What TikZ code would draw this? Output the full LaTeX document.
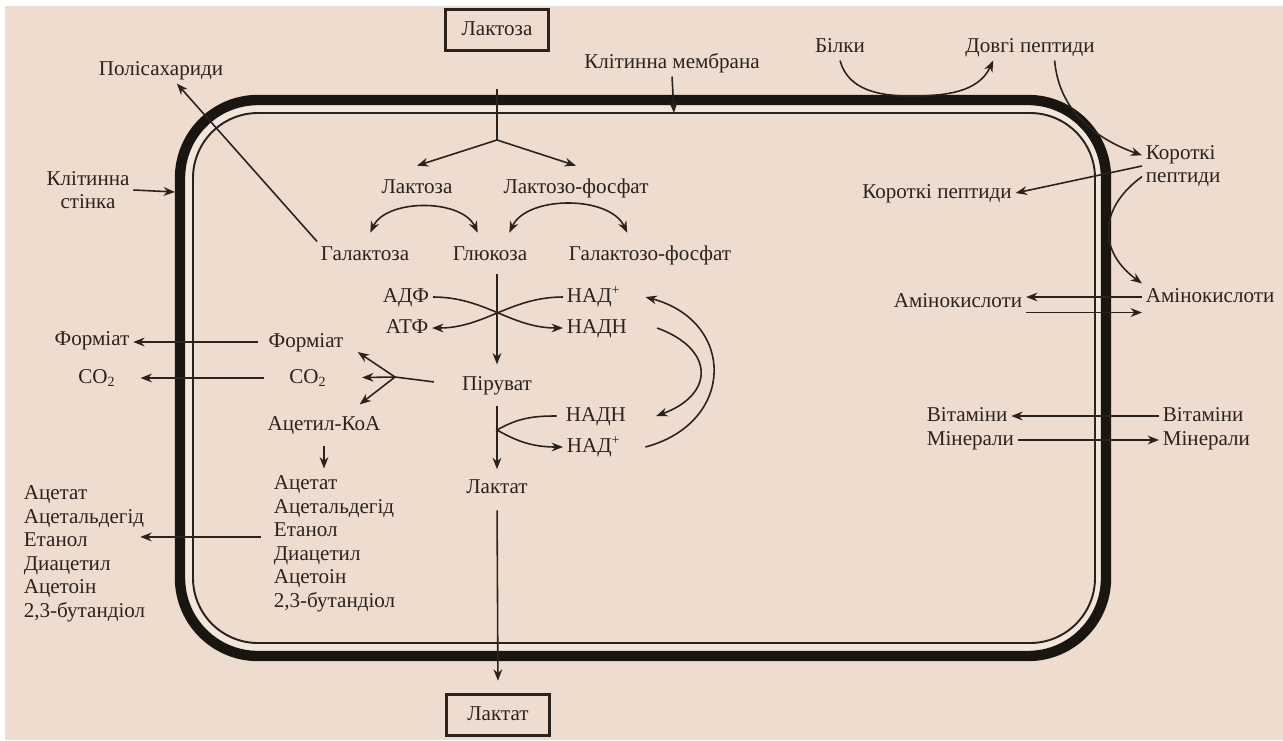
\documentclass[tikz,border=0pt]{standalone}
\usepackage{fontspec}
\setmainfont{Liberation Serif}
\usetikzlibrary{arrows.meta}
\definecolor{paper}{RGB}{238,221,207}
\definecolor{band}{RGB}{243,231,219}
\definecolor{ink}{RGB}{40,35,30}
\definecolor{wallc}{RGB}{25,22,18}

\begin{document}
\begin{tikzpicture}[x=0.02cm,y=-0.02cm,>={Stealth[length=6.5pt,width=5pt]},
    lbl/.style = {text=ink,font=\fontsize{12}{13.4}\selectfont,inner sep=2pt,text height=8.5pt,text depth=2.5pt},
    multi/.style = {text=ink,font=\fontsize{12}{13.4}\selectfont,inner sep=2pt,align=left},
    endbox/.style = {lbl,draw=ink,line width=1.7pt,minimum width=2.06cm,minimum height=0.82cm},
    arr/.style = {->,draw=ink,line width=0.9pt},
    dbl/.style = {<->,draw=ink,line width=0.9pt},
    link/.style = {draw=ink,line width=0.9pt}]

        % Background
        \useasboundingbox (0,0) rectangle (1283,740);
        \fill[white] (0,0) rectangle (1283,740);
        \fill[paper] (5,6) rectangle (1283,740);

        % Cell wall and membrane
        \filldraw[draw=wallc,fill=band,line width=5.9pt,rounded corners=1.56cm] (180,100) rectangle (1106,656);
        \filldraw[draw=ink,fill=paper,line width=1.1pt,rounded corners=1.3cm] (193,113) rectangle (1095,643);

        % Outside labels
        \node[endbox] (lacOut) at (497,30) {Лактоза};
        \node[lbl] (membr) at (672,63) {Клітинна мембрана};
        \node[lbl] (polys) at (161,70) {Полісахариди};
        \node[multi,align=center] (wall) at (88,190) {Клітинна\\стінка};
        \node[lbl] (prot) at (840,47) {Білки};
        \node[lbl] (longpep) at (1030,47) {Довгі пептиди};
        \node[multi,anchor=west] (shortOut) at (1142,166) {Короткі\\пептиди};
        \node[lbl,anchor=west] (aminoOut) at (1142,297) {Амінокислоти};
        \node[lbl,anchor=west] (vitOut) at (1159,416) {Вітаміни};
        \node[lbl,anchor=west] (minOut) at (1159,440) {Мінерали};
        \node[lbl] (formOut) at (92,340) {Форміат};
        \node[lbl] (co2Out) at (97,378) {CO\textsubscript{2}};
        \node[multi,anchor=north west] (prodOut) at (20,482) {Ацетат\\Ацетальдегід\\Етанол\\Диацетил\\Ацетоін\\2,3-бутандіол};
        \node[endbox] (lactOut) at (498,715) {Лактат};

        % Inside, right
        \node[lbl] (shortIn) at (937,193) {Короткі пептиди};
        \node[lbl] (aminoIn) at (958,302) {Амінокислоти};
        \node[lbl,anchor=west] (vitIn) at (923,416) {Вітаміни};
        \node[lbl,anchor=west] (minIn) at (923,440) {Мінерали};

        % Sugars
        \node[lbl] (lacIn) at (417,188) {Лактоза};
        \node[lbl] (lacP) at (576,188) {Лактозо-фосфат};
        \node[lbl] (gal) at (365,255) {Галактоза};
        \node[lbl] (glc) at (490,255) {Глюкоза};
        \node[lbl] (galP) at (650,255) {Галактозо-фосфат};

        % Glycolysis
        \node[lbl] (adp) at (406,297) {АДФ};
        \node[lbl] (atp) at (407,328) {АТФ};
        \node[lbl,anchor=west] (nadA) at (563,297) {НАД\textsuperscript{+}};
        \node[lbl,anchor=west] (nadhA) at (563,328) {НАДН};
        \node[lbl] (pyr) at (497,385) {Піруват};
        \node[lbl,anchor=west] (nadhB) at (562,416) {НАДН};
        \node[lbl,anchor=west] (nadB) at (563,447) {НАД\textsuperscript{+}};
        \node[lbl] (lact) at (497,488) {Лактат};

        % Mixed acids
        \node[lbl] (form) at (306,342) {Форміат};
        \node[lbl] (co2) at (308,378) {CO\textsubscript{2}};
        \node[lbl] (acoa) at (324,425) {Ацетил-КоА};
        \node[multi,anchor=north west] (prodIn) at (270,472) {Ацетат\\Ацетальдегід\\Етанол\\Диацетил\\Ацетоін\\2,3-бутандіол};

        % Points on the wall
        \coordinate (split) at (497,140);
        \coordinate (membrPt) at (674,113);
        \coordinate (wallPt) at (175,192);
        \coordinate (pyrSplit) at (395,377);
        \coordinate (lacSplit) at (497,430);
        \coordinate (protWall) at (910,96);

        % Lactose uptake
        \draw[link,shorten <=21pt] (lacOut.south) -- (split);
        \draw[arr] (split) -- ([yshift=5pt]lacIn.north);
        \draw[arr] (split) -- ([yshift=5pt]lacP.north);
        \draw[arr] (membr.south) -- (membrPt);
        \draw[arr] (wall.east) -- (wallPt);
        \draw[arr] (gal.north west) -- ([xshift=9pt]polys.south);
        \draw[dbl] ([xshift=3pt,yshift=5pt]gal.north) to[out=65,in=115,looseness=0.9] ([xshift=-7pt,yshift=5pt]glc.north);
        \draw[dbl] ([xshift=11pt,yshift=5pt]glc.north) to[out=65,in=115,looseness=0.9] ([xshift=-13pt,yshift=5pt]galP.north);

        % Glucose to lactate
        \draw[arr,shorten <=3pt,shorten >=4pt] (glc.south -| pyr.north) -- (pyr.north);
        \draw[arr] (adp.east) to[out=0,in=180] (nadhA.west);
        \draw[arr] (nadA.west) to[out=180,in=0] (atp.east);
        \draw[arr,shorten <=4pt,shorten >=3pt] (pyr.south) -- (lact.north);
        \draw[arr,shorten <=3pt] (nadhB.west) to[out=180,in=30] (lacSplit) to[out=-30,in=180] (nadB.west);
        \draw[arr] ([xshift=15pt]nadhA.east) to[out=-20,in=20,looseness=1.8] ([xshift=15pt]nadhB.east);
        \draw[arr] ([xshift=12pt]nadB.east) to[out=15,in=-15,looseness=1.6] ([xshift=12pt]nadA.east);
        \draw[arr,shorten <=5pt,shorten >=7pt] (lact.south) -- (lactOut.north);

        % Pyruvate branch
        \draw[link,shorten <=14pt] (pyr.west) -- (pyrSplit);
        \draw[arr] (pyrSplit) -- ([xshift=6pt,yshift=2pt]form.south east);
        \draw[arr,shorten >=18pt] (pyrSplit) -- (co2.east);
        \draw[arr] (pyrSplit) -- ([xshift=-14pt,yshift=4pt]acoa.north east);
        \draw[arr,shorten <=4pt] (form.west) -- (form.west -| formOut.east);
        \draw[arr,shorten <=12pt,shorten >=12pt] (co2.west) -- (co2.west -| co2Out.east);
        \draw[arr,shorten <=4pt,shorten >=2pt] (acoa.south) -- (acoa.south |- prodIn.north);
        \draw[arr,shorten <=5pt,shorten >=-5pt] ([yshift=4pt]prodIn.west) -- ([yshift=4pt]prodIn.west -| prodOut.east);

        % Proteins and peptides
        \draw[arr] (prot.south) to[out=-75,in=180] (protWall) to[out=0,in=-115] ([xshift=18pt]longpep.south west);
        \draw[arr] ([xshift=14pt]longpep.south) to[out=-85,in=160] ([yshift=-8pt]shortOut.north west);
        \draw[arr] (shortOut.west) -- (shortIn.east);
        \draw[arr] ([yshift=8pt]shortOut.south west) to[out=216,in=144,looseness=1.3] (aminoOut.north west);
        \draw[arr] (aminoOut.west) -- (aminoOut.west -| aminoIn.east);
        \draw[arr] ([yshift=-6pt]aminoIn.east) -- ([yshift=-6pt]aminoIn.east -| aminoOut.west);

        % Vitamins and minerals
        \draw[arr] (vitOut.west) -- (vitIn.east);
        \draw[arr] (minIn.east) -- (minOut.west);

    \end{tikzpicture}
\end{document}
